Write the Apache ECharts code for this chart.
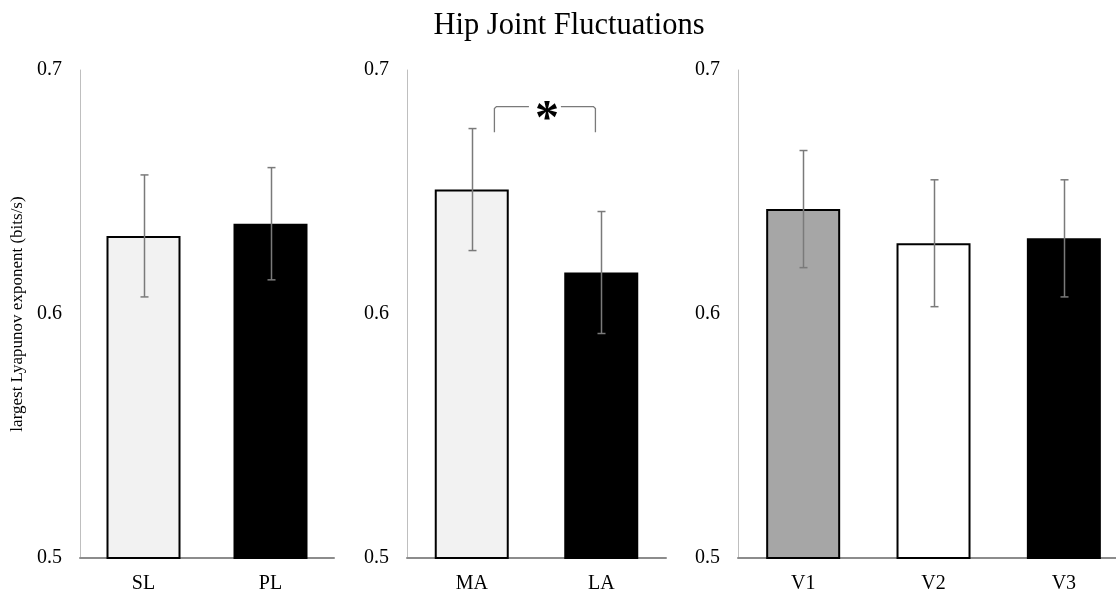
<!DOCTYPE html>
<html>
<head>
<meta charset="utf-8">
<script src="https://cdn.jsdelivr.net/npm/echarts@6/dist/echarts.min.js"></script>
<style>html,body{margin:0;padding:0;background:#fff}#c{width:1116px;height:596px}</style>
</head>
<body>
<div id="c"></div>
<script>
// ---- data ----
const title = 'Hip Joint Fluctuations';
const yName = 'largest Lyapunov exponent (bits/s)';
const yMin = 0.5, yMax = 0.7, yInterval = 0.1;

const catsA = ['SL', 'PL'];
const meansA = [0.632, 0.637];
const errA = [0.025, 0.023];

const catsB = ['MA', 'LA'];
const meansB = [0.651, 0.617];
const errB = [0.025, 0.025];

const catsC = ['V1', 'V2', 'V3'];
const meansC = [0.643, 0.629, 0.631];
const errC = [0.024, 0.026, 0.024];

// significance: between categories 0 and 1 of panel B
const sigPair = [0, 1];
const sigLabel = '*';
const sigTop = 0.685, sigBottom = 0.6745;

// ---- styles ----
const fillsA = ['#f2f2f2', '#000000'];
const fillsB = ['#f2f2f2', '#000000'];
const fillsC = ['#a6a6a6', '#ffffff', '#000000'];
const FONT = 'Liberation Serif, Times New Roman, serif';

const chart = echarts.init(document.getElementById('c'), null, {renderer: 'canvas'});

const grids = [
  {left: 80, width: 254, top: 70, bottom: 38},
  {left: 407, width: 259, top: 70, bottom: 38},
  {left: 738, right: 0, top: 70, bottom: 38}
];
const panels = [
  {cats: catsA, means: meansA, errs: errA, fills: fillsA},
  {cats: catsB, means: meansB, errs: errB, fills: fillsB},
  {cats: catsC, means: meansC, errs: errC, fills: fillsC}
];

const axisLineX = {show: true, onZero: false, lineStyle: {color: '#8c8c8c', width: 2}};
const labelX = {color: '#000', fontFamily: FONT, fontSize: 20, margin: 16};

const xAxis = panels.map((p, i) => {
  if (i < 2) {
    return {
      type: 'category', gridIndex: i, data: p.cats,
      axisLine: axisLineX, axisTick: {show: false},
      axisLabel: labelX, splitLine: {show: false}
    };
  }
  // last panel runs past the right edge of the picture: value axis over category indices
  return {
    type: 'value', gridIndex: i, min: -0.5, max: p.cats.length - 0.6,
    axisLine: axisLineX, axisTick: {show: false}, splitLine: {show: false},
    axisLabel: Object.assign({}, labelX, {
      customValues: p.cats.map((c, k) => k),
      formatter: v => p.cats[Math.round(v)]
    })
  };
});
const yAxis = panels.map((p, i) => ({
  type: 'value', gridIndex: i, min: yMin, max: yMax, interval: yInterval,
  name: i === 0 ? yName : '', nameLocation: 'middle', nameGap: 54,
  nameTextStyle: {color: '#000', fontFamily: FONT, fontSize: 17},
  axisLine: {show: true, onZero: false, lineStyle: {color: '#bfbfbf', width: 1}},
  axisTick: {show: false},
  splitLine: {show: false},
  axisLabel: {color: '#000', fontFamily: FONT, fontSize: 20, margin: 18,
    formatter: v => v.toFixed(1)}
}));

const series = [];
panels.forEach((p, i) => {
  series.push({
    type: 'bar', xAxisIndex: i, yAxisIndex: i, barWidth: 74,
    data: p.means.map((m, k) => ({value: [k, m], itemStyle: {color: p.fills[k], borderColor: '#000', borderWidth: 2}})),
    z: 2
  });
  series.push({
    type: 'custom', xAxisIndex: i, yAxisIndex: i, z: 5,
    data: p.means.map((m, k) => [k, m - p.errs[k], m + p.errs[k]]),
    renderItem: (params, api) => {
      const lo = api.coord([api.value(0), api.value(1)]);
      const hi = api.coord([api.value(0), api.value(2)]);
      const x = Math.round(lo[0]) + 0.5;
      const cw = 4;
      const st = {stroke: '#7a7a7a', lineWidth: 1.5, fill: null};
      return {type: 'group', children: [
        {type: 'line', shape: {x1: x, y1: lo[1], x2: x, y2: hi[1]}, style: st},
        {type: 'line', shape: {x1: x - cw, y1: lo[1], x2: x + cw, y2: lo[1]}, style: st},
        {type: 'line', shape: {x1: x - cw, y1: hi[1], x2: x + cw, y2: hi[1]}, style: st}
      ]};
    }
  });
});

// significance bracket on panel B
series.push({
  type: 'custom', xAxisIndex: 1, yAxisIndex: 1, z: 6,
  data: [[sigPair[0], sigPair[1], sigTop, sigBottom]],
  renderItem: (params, api) => {
    const band = api.size([1, 0])[0];
    const a = api.coord([api.value(0), api.value(2)]);
    const b = api.coord([api.value(1), api.value(2)]);
    const bot = api.coord([api.value(0), api.value(3)])[1];
    const L = a[0] + 0.175 * band, R = b[0] - 0.045 * band, T = a[1];
    const mid = (L + R) / 2;
    const gap = 16;
    const st = {stroke: '#7a7a7a', lineWidth: 1.3, fill: null};
    return {type: 'group', children: [
      {type: 'polyline', shape: {points: [[L, bot], [L, T + 2], [L + 2, T], [mid - gap, T]]}, style: st},
      {type: 'polyline', shape: {points: [[mid + gap, T], [R - 2, T], [R, T + 2], [R, bot]]}, style: st},
      {type: 'text', style: {text: sigLabel, x: mid + 2, y: T + 14, align: 'center', verticalAlign: 'middle',
        font: 'bold 48px ' + FONT, fill: '#000'}}
    ]};
  }
});

chart.setOption({
  animation: false,
  backgroundColor: '#fff',
  title: {text: title, left: 564, textAlign: 'center', top: 5,
    textStyle: {color: '#000', fontFamily: FONT, fontSize: 30.5, fontWeight: 'normal'}},
  grid: grids,
  xAxis: xAxis,
  yAxis: yAxis,
  series: series
});
</script>
</body>
</html>
